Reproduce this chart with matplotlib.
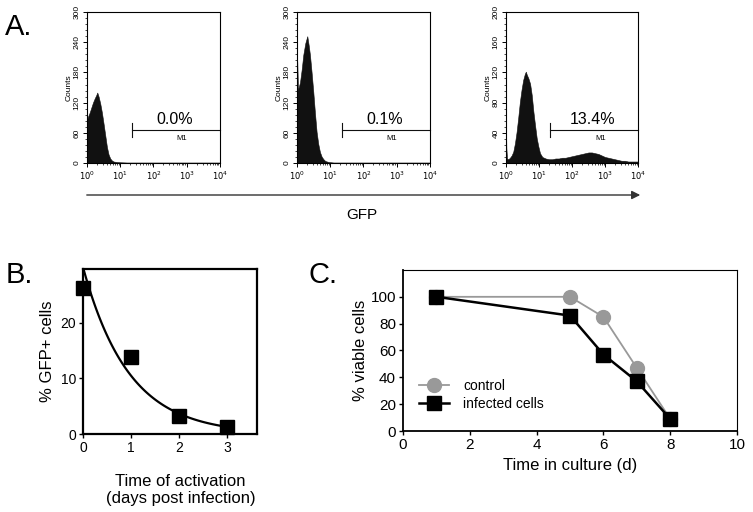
import matplotlib
matplotlib.use("Agg")
import matplotlib.pyplot as plt
import numpy as np
from matplotlib.ticker import LogLocator, FixedLocator, AutoMinorLocator, NullFormatter

plt.rcParams['font.family'] = ['Liberation Sans', 'DejaVu Sans']

# Panel A: flow cytometry histograms (channel position in decades, counts)
hist1_log = [0.00, 0.03, 0.08, 0.13, 0.18, 0.23, 0.28, 0.31, 0.35, 0.40, 0.45, 0.50,
             0.55, 0.60, 0.65, 0.70, 0.75, 0.80, 0.90, 1.0, 1.2, 1.5, 2.0, 2.5, 3.0, 3.5, 4.0]
hist1_counts = [85, 92, 100, 110, 120, 128, 135, 140, 132, 118, 100, 78,
                55, 32, 17, 9, 5, 3, 2, 1.5, 1, 1, 1, 1, 1, 1, 1]

hist2_log = [0.00, 0.01, 0.03, 0.09, 0.14, 0.19, 0.25, 0.31, 0.35, 0.39, 0.44, 0.49,
             0.54, 0.59, 0.64, 0.69, 0.74, 0.79, 0.85, 0.95, 1.1, 1.5, 2.0, 3.0, 4.0]
hist2_counts = [215, 200, 145, 160, 185, 215, 238, 252, 235, 215, 180, 142,
                100, 62, 38, 22, 13, 8, 4, 2, 1, 1, 1, 1, 1]

hist3_log = [0.00, 0.01, 0.03, 0.07, 0.12, 0.17, 0.22, 0.27, 0.32, 0.37, 0.42, 0.47,
             0.52, 0.57, 0.60, 0.63, 0.68, 0.73, 0.78, 0.83, 0.88, 0.93, 0.98, 1.03,
             1.1, 1.2, 1.3, 1.4, 1.5, 1.6, 1.7, 1.8, 1.9, 2.0, 2.1, 2.2, 2.3, 2.4,
             2.5, 2.6, 2.7, 2.8, 2.9, 3.0, 3.1, 3.2, 3.3, 3.4, 3.5, 3.6, 3.7, 3.8, 3.9, 4.0]
hist3_counts = [50, 20, 6, 5, 7, 10, 15, 26, 41, 60, 81, 97,
                110, 118, 121, 117, 112, 105, 90, 68, 50, 33, 22, 13,
                8, 6, 5, 5, 6, 6, 7, 7, 8, 9, 10, 11, 12, 13,
                14, 14, 13, 12, 10, 8, 7, 6, 5, 4, 3, 3, 2, 2, 2, 2]

hist_percent = ['0.0%', '0.1%', '13.4%']
hist_ymax = [300, 300, 200]
hist_yticks = [[0, 60, 120, 180, 240, 300], [0, 60, 120, 180, 240, 300], [0, 40, 80, 120, 160, 200]]
m1_start = 22

# Panel B: GFP+ cells vs time of activation
days = [0, 1, 2, 3]
gfp_pos = [26.3, 13.8, 3.2, 1.3]

# Panel C: viability
time_culture = [1, 5, 6, 7, 8]
viable_control = [100, 100, 85, 47, 9]
viable_infected = [100, 86, 57, 37, 9]

fig = plt.figure(figsize=(7.53, 5.12), dpi=100)


def draw_histogram(rect, log_pos, counts, ymax, yticks, label):
    ax = fig.add_axes(rect)
    x = 10 ** np.array(log_pos)
    ax.fill_between(x, counts, 0, color='#111111', lw=0.4, edgecolor='#111111')
    ax.set_xscale('log')
    ax.set_xlim(1, 1e4)
    ax.set_ylim(0, ymax)

    ax.xaxis.set_major_locator(LogLocator(base=10, numticks=10))
    ax.xaxis.set_minor_locator(LogLocator(base=10, subs=np.arange(2, 10), numticks=50))
    ax.xaxis.set_minor_formatter(NullFormatter())
    ax.set_xticks([1, 10, 100, 1000, 10000])
    ax.set_xticklabels(['$10^0$', '$10^1$', '$10^2$', '$10^3$', '$10^4$'])
    ax.yaxis.set_major_locator(FixedLocator(yticks))
    ax.yaxis.set_minor_locator(AutoMinorLocator(5))
    ax.set_yticklabels([str(t) for t in yticks], rotation=90, va='center')

    ax.tick_params(which='major', length=3, width=0.7, labelsize=6, pad=1.5)
    ax.tick_params(which='minor', length=1.6, width=0.5)
    for s in ax.spines.values():
        s.set_linewidth(0.8)
    ax.set_ylabel('Counts', fontsize=6, labelpad=1)

    # M1 gate marker
    ym = 0.22 * ymax
    ax.plot([m1_start, 1e4], [ym, ym], color='#111111', lw=0.8, clip_on=False)
    ax.plot([m1_start, m1_start], [ym - 0.045 * ymax, ym + 0.045 * ymax], color='#111111', lw=0.8)
    ax.text(10 ** 2.63, 0.29 * ymax, label, ha='center', va='center', fontsize=11.5)
    ax.text(10 ** 2.86, 0.165 * ymax, 'M1', ha='center', va='center', fontsize=5.5)
    return ax


hist_rects = [[0.1155, 0.6816, 0.1766, 0.2949],
              [0.3944, 0.6816, 0.1766, 0.2949],
              [0.6720, 0.6816, 0.1753, 0.2949]]
hist_data = [(hist1_log, hist1_counts), (hist2_log, hist2_counts), (hist3_log, hist3_counts)]
for i in range(3):
    draw_histogram(hist_rects[i], hist_data[i][0], hist_data[i][1], hist_ymax[i], hist_yticks[i], hist_percent[i])

# GFP arrow under panel A
fig.add_artist(matplotlib.patches.FancyArrowPatch((84 / 753, 1 - 195 / 512), (643 / 753, 1 - 195 / 512),
                                                  transform=fig.transFigure, arrowstyle='-|>,head_length=5,head_width=2.5',
                                                  color='#333333', lw=1.0, mutation_scale=1))
fig.text(362 / 753, 1 - 215 / 512, 'GFP', ha='center', va='center', fontsize=11)

# Panel B
axb = fig.add_axes([0.1102, 0.1523, 0.2311, 0.3223])
coef = np.polyfit(days, np.log(gfp_pos), 1)
t_fit = np.linspace(0, 3, 100)
axb.plot(t_fit, np.exp(coef[1]) * np.exp(coef[0] * t_fit), color='black', lw=1.6)
axb.plot(days, gfp_pos, 's', color='black', ms=10, clip_on=False)
axb.set_xlim(0, 3.63)
axb.set_ylim(0, 29.7)
axb.set_xticks([0, 1, 2, 3])
axb.set_yticks([0, 10, 20])
axb.tick_params(length=3, width=1, labelsize=10, pad=2)
for s in axb.spines.values():
    s.set_linewidth(1.6)
axb.set_ylabel('% GFP+ cells', fontsize=12, labelpad=4)
axb.set_xlabel('Time of activation\n(days post infection)', fontsize=12, labelpad=14, x=0.56, linespacing=1.1)

# Panel C
axc = fig.add_axes([0.5352, 0.1582, 0.4436, 0.3145])
axc.plot(time_culture, viable_control, '-o', color='#999999', mfc='#999999', mec='#999999',
         lw=1.3, ms=10, label='control', clip_on=False)
axc.plot(time_culture, viable_infected, '-s', color='black', lw=1.8, ms=9.5,
         label='infected cells', clip_on=False)
axc.set_xlim(0, 10)
axc.set_ylim(0, 120)
axc.set_xticks([0, 2, 4, 6, 8, 10])
axc.set_yticks([0, 20, 40, 60, 80, 100])
axc.tick_params(length=3, width=1, labelsize=11, pad=2)
axc.spines['left'].set_linewidth(1.3)
axc.spines['bottom'].set_linewidth(1.3)
axc.spines['top'].set_linewidth(0.8)
axc.spines['right'].set_linewidth(0.8)
axc.set_ylabel('% viable cells', fontsize=12, labelpad=2)
axc.set_xlabel('Time in culture (d)', fontsize=12, labelpad=4)
axc.legend(loc='upper left', bbox_to_anchor=(0.03, 0.36), frameon=False, fontsize=10,
           handlelength=2.2, handletextpad=1.0, labelspacing=0.3, borderaxespad=0)

# panel letters
fig.text(0.007, 1 - 35 / 512, 'A.', fontsize=21)
fig.text(0.008, 1 - 283 / 512, 'B.', fontsize=21)
fig.text(308 / 753, 1 - 283 / 512, 'C.', fontsize=21)

fig.savefig('out.png', dpi=100)
